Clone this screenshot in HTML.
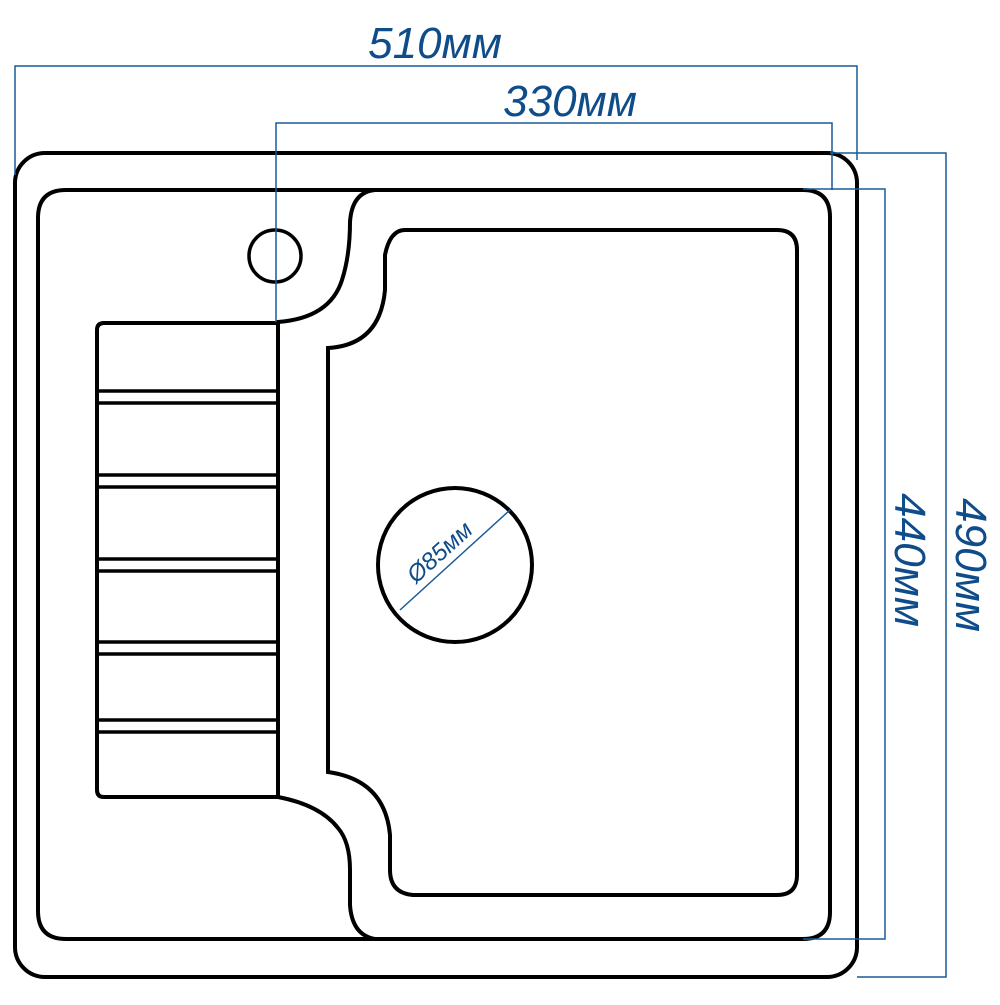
<!DOCTYPE html>
<html><head><meta charset="utf-8"><style>body{margin:0;background:#fff}</style></head><body>
<svg width="1000" height="1000" viewBox="0 0 1000 1000" xmlns="http://www.w3.org/2000/svg">
<g fill="none" stroke="#000" stroke-width="4">
<rect x="15" y="153" width="842" height="824" rx="30"/>
<path d="M375 190 H803 Q830 190 830 217 V912 Q830 939 803 939 H375 Q352 935 350 905 V870 Q350 842 338 828 Q320 805 278 797 V322 Q330 318 342 280 Q350 255 350 222 Q352 192 375 190"/>
<path d="M375 190 H66 Q38 190 38 218 V911 Q38 939 66 939 H375"/>
<path d="M405 230 H777 Q797 230 797 250 V875 Q797 895 777 895 H413 Q390 893 390 870 V835 Q385 780 328 772 V348 Q380 345 385 290 V255 Q390 230 405 230"/>
<path d="M278 323 H104 Q97 323 97 330 V790 Q97 797 104 797 H278"/>
<circle cx="275" cy="256" r="26" stroke-width="3.5"/>
<circle cx="455" cy="565" r="77"/>
<g stroke-width="3.5">
<path d="M97 391 H278 M97 403 H278"/>
<path d="M97 475 H278 M97 487 H278"/>
<path d="M97 559 H278 M97 571 H278"/>
<path d="M97 642 H278 M97 654 H278"/>
<path d="M97 720 H278 M97 732 H278"/>
</g>
</g>
<g stroke="#1a5a96" stroke-width="1.5" fill="none">
<path d="M15 175 V66 H857 V160"/>
<path d="M276 322 V123 H832 V190"/>
<path d="M830 153 H946 V977 H857"/>
<path d="M803 189 H885 V939 H803"/>
<path d="M400 610 L510 510"/>
</g>
<g fill="#0f4c8a" font-family="Liberation Sans, sans-serif" font-style="italic">
<text x="435" y="58" font-size="44" text-anchor="middle">510мм</text>
<text x="570" y="116" font-size="44" text-anchor="middle">330мм</text>
<text transform="translate(956 565) rotate(90)" font-size="44" text-anchor="middle">490мм</text>
<text transform="translate(895 560) rotate(90)" font-size="44" text-anchor="middle">440мм</text>
<text transform="translate(445 558) rotate(-42)" font-size="24" text-anchor="middle">Ø85мм</text>
</g>
</svg>
</body></html>
